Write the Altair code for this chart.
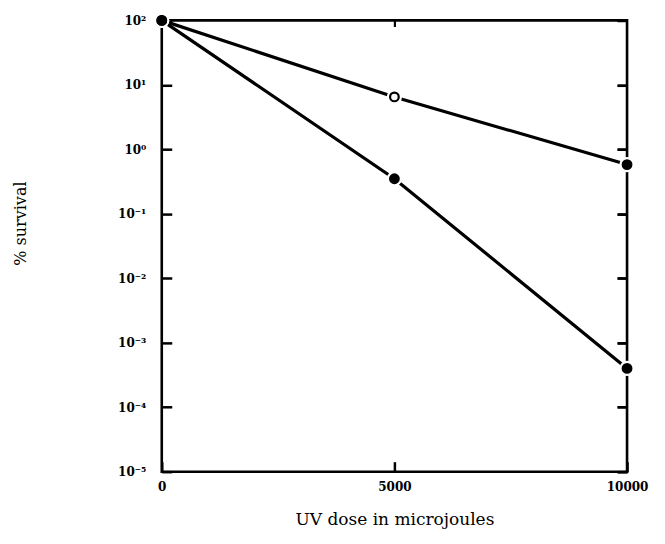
import json
import altair as alt
import pandas as pd

# ---- data ----
dose = [0, 5000, 10000]
series_a = [100, 6.5, 0.58]          # upper curve
series_a_marker = ["filled", "open", "filled"]
series_b = [100, 0.35, 4.0e-4]       # lower curve
series_b_marker = ["filled", "filled", "filled"]

x_ticks = [0, 5000, 10000]
y_ticks = [1e-5, 1e-4, 1e-3, 1e-2, 1e-1, 1e0, 1e1, 1e2]
y_tick_labels = ["10⁻⁵", "10⁻⁴", "10⁻³", "10⁻²", "10⁻¹", "10⁰", "10¹", "10²"]

rows = []
for s, vals, marks in (("A", series_a, series_a_marker), ("B", series_b, series_b_marker)):
    for d, v, m in zip(dose, vals, marks):
        rows.append({"series": s, "dose": d, "survival": v, "marker": m})
df = pd.DataFrame(rows)

FONT = "DejaVu Serif"
label_expr = json.dumps(y_tick_labels) + "[round(log(datum.value)/LN10)+5]"

xscale = alt.Scale(domain=[0, 10000], nice=False, zero=False)
yscale = alt.Scale(type="log", domain=[1e-5, 100], nice=False)

x_bottom = alt.X(
    "dose:Q", scale=xscale,
    axis=alt.Axis(
        orient="bottom", values=x_ticks, format="d", domain=False, grid=False,
        offset=-10, tickSize=10, tickWidth=2.5, tickColor="black",
        labelPadding=10, labelFont=FONT, labelFontWeight="bold", labelFontSize=12,
        labelColor="black", labelFlush=False,
        title="UV dose in microjoules", titleFont=FONT, titleFontWeight="normal",
        titleFontSize=17, titleColor="black", titleBaseline="middle",
        titleY=58,
    ),
)
y_left = alt.Y(
    "survival:Q", scale=yscale,
    axis=alt.Axis(
        orient="left", values=y_ticks, labelExpr=label_expr, domain=False, grid=False,
        offset=-10, tickSize=10, tickWidth=2.5, tickColor="black",
        labelPadding=16, labelFont=FONT, labelFontWeight="bold", labelFontSize=12,
        labelColor="black", labelBaseline="middle",
        title="% survival", titleFont=FONT, titleFontWeight="normal",
        titleFontSize=16, titleColor="black", titleAngle=-90,
        titleBaseline="middle", titleAlign="center", titleX=-151, titleY=203,
    ),
)
x_top = alt.X(
    "dose:Q", scale=xscale,
    axis=alt.Axis(
        orient="top", values=[5000], domain=False, grid=False, labels=False,
        offset=-6, tickSize=6, tickWidth=2, tickColor="black", title=None,
    ),
)
y_right = alt.Y(
    "survival:Q", scale=yscale,
    axis=alt.Axis(
        orient="right", values=y_ticks, domain=False, grid=False, labels=False,
        offset=-10, tickSize=10, tickWidth=2.5, tickColor="black", title=None,
    ),
)

lines = alt.Chart(df).mark_line(color="black", strokeWidth=3.2).encode(
    x=x_bottom, y=y_left, detail="series:N"
)

halo = alt.Chart(df).mark_point(
    shape="circle", filled=True, color="white", opacity=1, size=230
).encode(x=x_top, y=y_right)

points = alt.Chart(df).mark_point(
    shape="circle", opacity=1, strokeWidth=2.2, stroke="black", size=75
).encode(
    x=x_top, y=y_right,
    fill=alt.Fill("marker:N", scale=alt.Scale(domain=["filled", "open"], range=["black", "white"]), legend=None),
)

chart = (
    alt.layer(lines, halo, points)
    .resolve_axis(x="independent", y="independent")
    .properties(
        width=466, height=452,
        autosize=alt.AutoSizeParams(type="none"),
        padding={"left": 154, "top": 12, "right": 30, "bottom": 60},
        background="white",
    )
    .configure_view(stroke="black", strokeWidth=2.6)
)

chart.save("out.html", embed_options={"renderer": "svg", "actions": False})
